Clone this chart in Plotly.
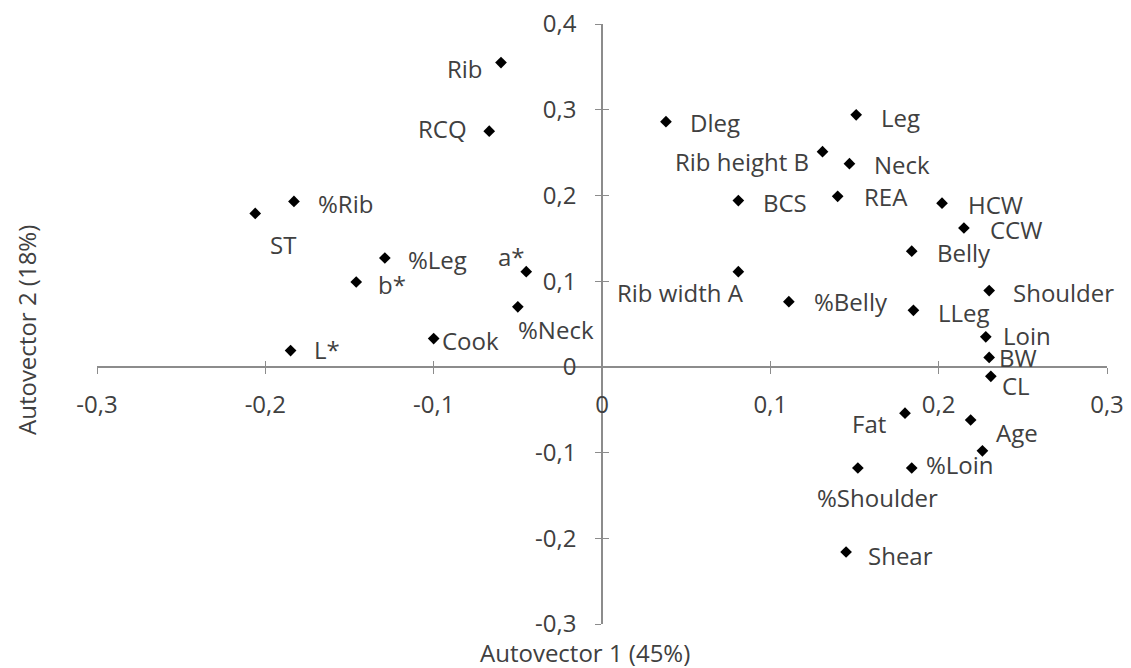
import plotly.graph_objects as go

names = ["Rib", "RCQ", "%Rib", "ST", "%Leg", "b*", "a*", "%Neck", "Cook", "L*",
         "Dleg", "Leg", "Rib height B", "Neck", "BCS", "REA", "HCW", "CCW", "Belly",
         "Shoulder", "Rib width A", "%Belly", "LLeg", "Loin", "BW", "CL",
         "Fat", "Age", "", "%Loin", "%Shoulder", "Shear"]
autovector1 = [-0.060, -0.067, -0.183, -0.206, -0.129, -0.146, -0.045, -0.050, -0.100, -0.185,
               0.038, 0.151, 0.131, 0.147, 0.081, 0.140, 0.202, 0.215, 0.184,
               0.230, 0.081, 0.111, 0.185, 0.228, 0.230, 0.231,
               0.180, 0.219, 0.226, 0.184, 0.152, 0.145]
autovector2 = [0.355, 0.275, 0.193, 0.179, 0.127, 0.099, 0.111, 0.070, 0.033, 0.019,
               0.286, 0.294, 0.251, 0.237, 0.194, 0.199, 0.191, 0.162, 0.135,
               0.089, 0.111, 0.076, 0.066, 0.035, 0.011, -0.011,
               -0.054, -0.062, -0.098, -0.118, -0.118, -0.216]

x_ticks = [-0.3, -0.2, -0.1, 0, 0.1, 0.2, 0.3]
x_ticktext = ["-0,3", "-0,2", "-0,1", "0", "0,1", "0,2", "0,3"]
y_ticks = [-0.3, -0.2, -0.1, 0, 0.1, 0.2, 0.3, 0.4]
y_ticktext = ["-0,3", "-0,2", "-0,1", "0", "0,1", "0,2", "0,3", "0,4"]

x_title = "Autovector 1 (45%)"
y_title = "Autovector 2 (18%)"

# label placement offsets in pixels (dx right, dy down) — styling only
label_offsets = [(-36, 6), (-47, -3), (52, 2), (28, 31), (53, 1), (36, 2), (-15, -15), (38, 23),
                 (37, 2), (36, -1), (49, 1), (44, 3), (-81, 10), (53, 1), (47, 2), (48, 0),
                 (53, 1), (52, 1), (52, 1), (74, 2), (-58, 21), (62, 0), (51, 2), (41, -1),
                 (29, 0), (25, 9), (-36, 10), (46, 12), (0, 0), (48, -4), (20, 29), (54, 3)]

FONT = "Open Sans"
TEXT = "#404040"
AXIS = "#8c8c8c"
W, H = 1131, 668
ML, MR, MT, MB = 97, 24, 24, 44
PW, PH = W - ML - MR, H - MT - MB

xr = [-0.3, 0.3]
yr = [-0.3, 0.4]
xpos = (0 - yr[0]) / (yr[1] - yr[0])
ypos = (0 - xr[0]) / (xr[1] - xr[0])

fig = go.Figure()
fig.add_trace(go.Scatter(
    x=autovector1, y=autovector2, mode="markers",
    marker=dict(symbol="diamond", size=9, color="black"),
    hoverinfo="skip", showlegend=False, cliponaxis=False,
))
fig.add_trace(go.Scatter(x=[None], y=[None], xaxis="x2", yaxis="y2",
                         showlegend=False, hoverinfo="skip"))

for n, xv, yv, (dx, dy) in zip(names, autovector1, autovector2, label_offsets):
    if not n:
        continue
    fig.add_annotation(x=xv, y=yv, xref="x", yref="y", text=n, showarrow=False,
                       xshift=dx, yshift=-dy, xanchor="center", yanchor="middle",
                       font=dict(family=FONT, size=24, color=TEXT))

axis_common = dict(showgrid=False, zeroline=False, showline=True, linecolor=AXIS,
                   linewidth=1.5, ticks="outside", ticklen=6, tickcolor=AXIS, tickwidth=1.2,
                   tickfont=dict(family=FONT, size=24, color=TEXT), anchor="free",
                   automargin=False)
overlay_common = dict(anchor="free", showgrid=False, zeroline=False, showline=False,
                      ticks="inside", ticklen=6, tickcolor=AXIS, tickwidth=1.2,
                      showticklabels=False, automargin=False)

fig.update_layout(
    width=W, height=H, autosize=False, paper_bgcolor="white", plot_bgcolor="white",
    margin=dict(l=ML, r=MR, t=MT, b=MB, autoexpand=False),
    xaxis=dict(range=xr, tickvals=x_ticks, ticktext=x_ticktext, position=xpos,
               ticklabelstandoff=11, **axis_common),
    yaxis=dict(range=yr, tickvals=y_ticks, ticktext=y_ticktext, position=ypos,
               ticklabelstandoff=14, **axis_common),
    xaxis2=dict(range=xr, overlaying="x", position=xpos, tickvals=x_ticks, **overlay_common),
    yaxis2=dict(range=yr, overlaying="y", position=ypos, tickvals=y_ticks, **overlay_common),
    showlegend=False,
)

fig.add_annotation(x=(585 - ML) / PW, y=(H - MB - 652) / PH, xref="paper", yref="paper",
                   text=x_title, showarrow=False, xanchor="center", yanchor="middle",
                   font=dict(family=FONT, size=24, color=TEXT))
fig.add_annotation(x=(26 - ML) / PW, y=(H - MB - 330) / PH,
                   xref="paper", yref="paper", text=y_title, textangle=-90,
                   showarrow=False, xanchor="center", yanchor="middle",
                   font=dict(family=FONT, size=24, color=TEXT))

post = ("document.documentElement.style.margin='0';document.body.style.margin='0';"
        "document.documentElement.style.overflow='hidden';document.body.style.overflow='hidden';"
        "var d=document.getElementById('{plot_id}');d.style.position='fixed';"
        "d.style.left='0px';d.style.top='0px';")
fig.write_html("out.html", config={"displayModeBar": False}, post_script=post)
